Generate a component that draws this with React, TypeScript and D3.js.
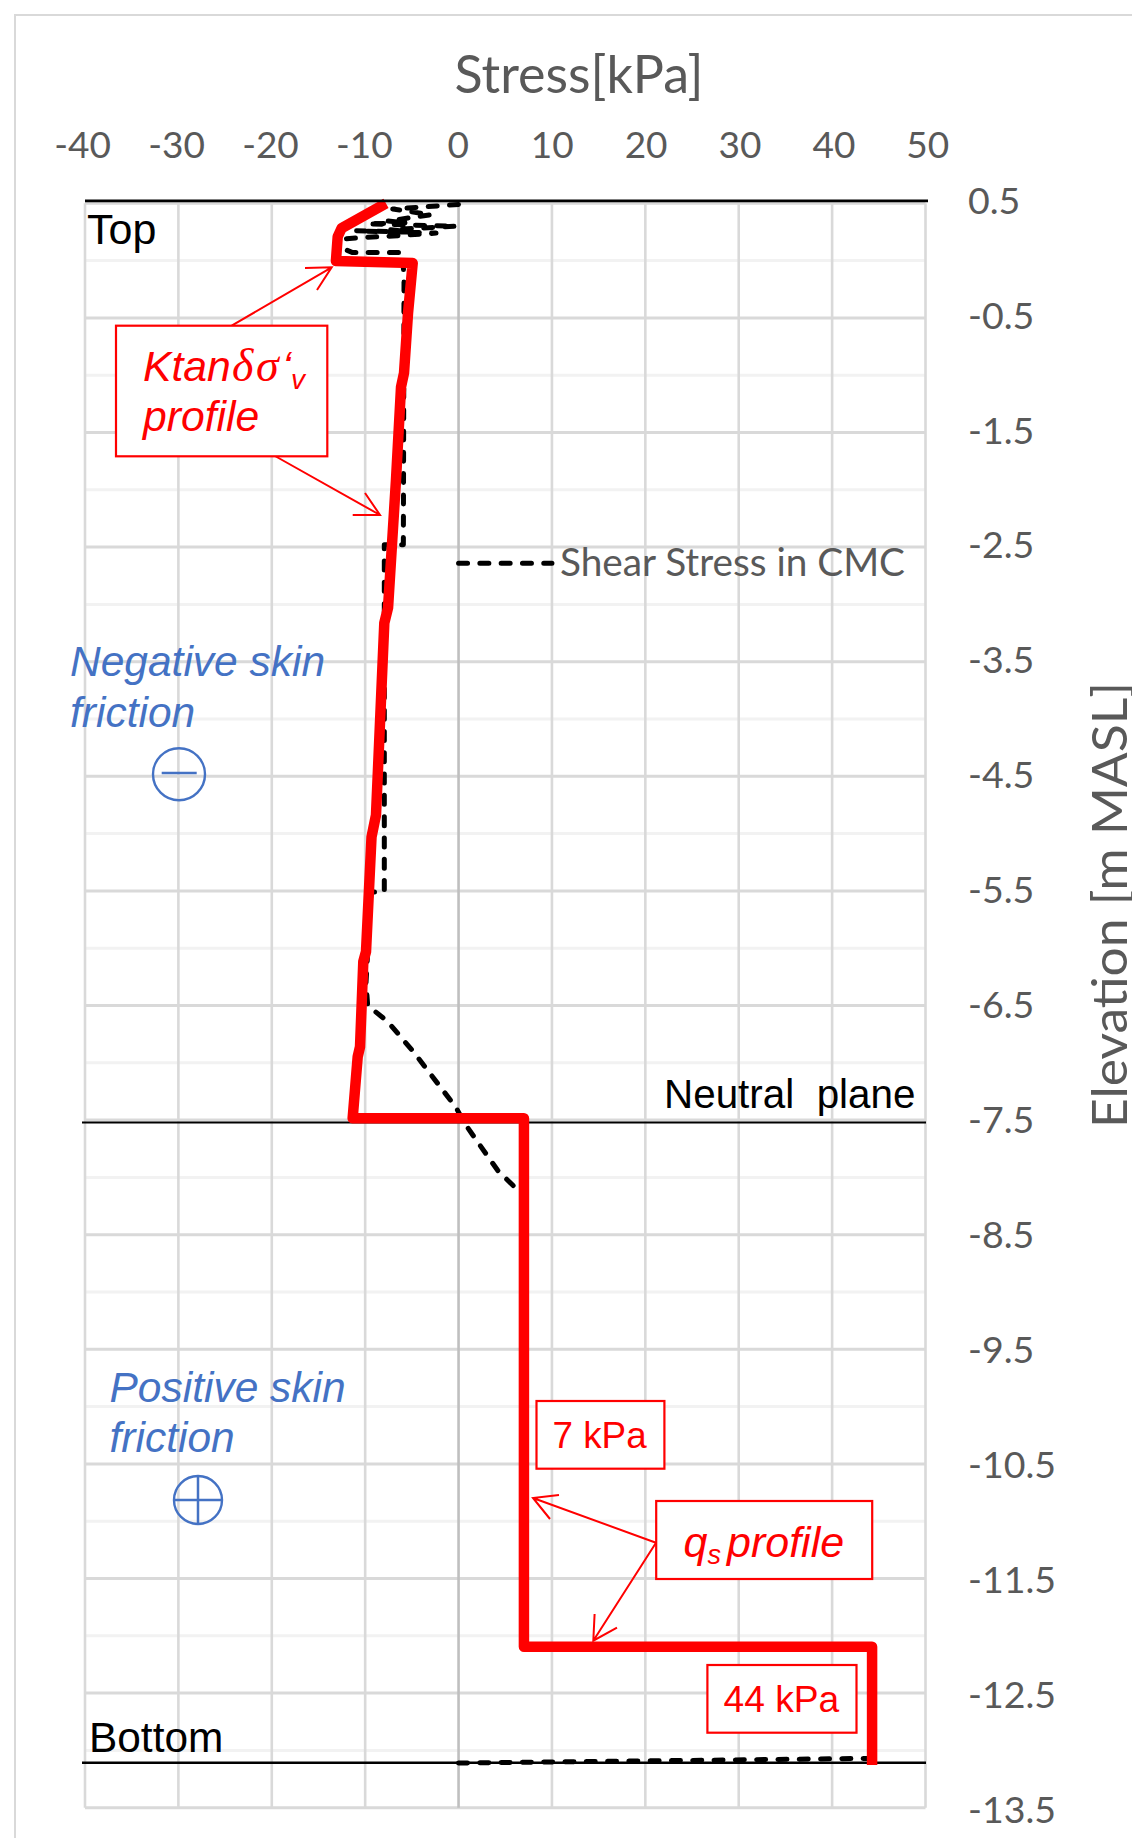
import React from "react";
import * as d3 from "d3";

const stressTicks = [-40, -30, -20, -10, 0, 10, 20, 30, 40, 50];
const elevationTicks = [0.5, -0.5, -1.5, -2.5, -3.5, -4.5, -5.5, -6.5, -7.5, -8.5, -9.5, -10.5, -11.5, -12.5, -13.5];
const elevationMinor = [0, -1, -2, -3, -4, -5, -6, -7, -8, -9, -10, -11, -12, -13];

const profileStress = [-7.77, -12.51, -12.94, -13.13, -4.91, -5.41, -5.84, -6.16, -6.7, -7.55, -7.95, -8.84, -9.32, -9.91, -10.2, -10.55, -10.8, -11.34, 7, 7, 44.28, 44.28];
const profileElev = [0.5, 0.284, 0.209, -0.003, -0.021, -0.457, -0.981, -1.103, -1.914, -3.03, -3.162, -4.838, -5.03, -6.03, -6.118, -6.86, -6.947, -7.484, -7.484, -12.095, -12.095, -13.127];

const shearStress = [-0.01, -7.05, -2.95, -7.6, -5.5, -9.73, -0.27, -7.3, -5.2, -10.98, -2.41, -7.0, -10.66, -12.05, -11.95, -11.34, -5.98, -5.84, -5.91, -7.95, -7.95, -9.38, -9.91, -9.73, -7.59, -4.77, -0.27, 0.59, 1.52, 4.2, 6.34, 6.9];
const shearElev = [0.49, 0.45, 0.4, 0.345, 0.33, 0.32, 0.3, 0.27, 0.25, 0.26, 0.24, 0.215, 0.2, 0.19, 0.09, 0.07, 0.07, -0.18, -2.48, -2.48, -5.51, -5.51, -6.3, -6.5, -6.64, -6.91, -7.39, -7.52, -7.63, -7.94, -8.11, -8.15];
const shearBaseStress = [-0.01, 43.85];
const shearBaseElev = [-13.11, -13.07];

const topElev = 0.522;
const neutralElev = -7.52;
const bottomElev = -13.108;

const x = d3.scaleLinear().domain([-40, 50]).range([85, 925.5]);
const y = d3.scaleLinear().domain([0.5, -13.5]).range([203.3, 1807.7]);
const xLabel = d3.scaleLinear().domain([-40, 50]).range([82.7, 927.8]);
const yLabel = d3.scaleLinear().domain([0.5, -13.5]).range([201, 1810]);

const line = d3.line<[number, number]>().x((d) => x(d[0])).y((d) => y(d[1]));
const zip = (a: number[], b: number[]) => a.map((v, i) => [v, b[i]] as [number, number]);

const GREY = "#595959";
const RED = "#ff0000";
const BLUE = "#4472c4";
const SANS = "'Liberation Sans', Arial, sans-serif";
const SERIF = "'Liberation Serif', serif";
const LATO = "Lato, sans-serif";

function Arrow({ from, tip, a, b }: { from: number[]; tip: number[]; a: number[]; b: number[] }) {
  return (
    <path
      d={`M${from[0]},${from[1]}L${tip[0]},${tip[1]}M${a[0]},${a[1]}L${tip[0]},${tip[1]}L${b[0]},${b[1]}`}
      fill="none"
      stroke={RED}
      strokeWidth={2}
    />
  );
}

function Box({ x0, y0, x1, y1 }: { x0: number; y0: number; x1: number; y1: number }) {
  return <rect x={x0} y={y0} width={x1 - x0} height={y1 - y0} fill="#fff" stroke={RED} strokeWidth={2.2} />;
}

export default function App() {
  const dash = { fill: "none", stroke: "#000", strokeWidth: 5, strokeDasharray: "9 12.3", strokeLinecap: "round" as const, strokeLinejoin: "round" as const };
  return (
    <svg width={1132} height={1838} style={{ position: "absolute", left: 0, top: 0, display: "block", background: "#fff" }}>
      <rect x={15} y={15} width={1140} height={1860} fill="none" stroke="#d9d9d9" strokeWidth={2} />

      {elevationMinor.map((e) => (
        <line key={e} x1={x(-40)} x2={x(50)} y1={y(e)} y2={y(e)} stroke="#f2f2f2" strokeWidth={3} />
      ))}
      {elevationTicks.map((e) => (
        <line key={e} x1={x(-40)} x2={x(50)} y1={y(e)} y2={y(e)} stroke="#d9d9d9" strokeWidth={3} />
      ))}
      {stressTicks.map((s) => (
        <line key={s} x1={x(s)} x2={x(s)} y1={y(0.5)} y2={y(-13.5)} stroke={s === 0 ? "#bfbfbf" : "#d9d9d9"} strokeWidth={2.6} />
      ))}

      <line x1={82} x2={926} y1={y(neutralElev)} y2={y(neutralElev)} stroke="#000" strokeWidth={2} />
      <line x1={82} x2={926} y1={y(bottomElev)} y2={y(bottomElev)} stroke="#000" strokeWidth={2.5} />

      <path d={line(zip(shearStress, shearElev)) ?? ""} {...dash} />
      <path d={line(zip(shearBaseStress, shearBaseElev)) ?? ""} {...dash} />
      <path d={line(zip(profileStress, profileElev)) ?? ""} fill="none" stroke={RED} strokeWidth={10.5} strokeLinejoin="round" />

      <line x1={85} x2={928} y1={y(topElev)} y2={y(topElev)} stroke="#000" strokeWidth={2.7} />

      {stressTicks.map((s) => (
        <text key={s} x={xLabel(s)} y={158} textAnchor="middle" fontFamily={LATO} fontSize={37} fill={GREY}>{s}</text>
      ))}
      {elevationTicks.map((e) => (
        <text key={e} x={968} y={yLabel(e) + 12.7} fontFamily={LATO} fontSize={37.5} fill={GREY}>{e}</text>
      ))}
      <text x={579} y={93} textAnchor="middle" fontFamily={LATO} fontSize={52} fill={GREY}>Stress[kPa]</text>
      <text transform="translate(1127,1128) rotate(-90)" fontFamily={LATO} fontSize={48} fill={GREY} textLength={446} lengthAdjust="spacingAndGlyphs">Elevation [m MASL]</text>

      <line x1={x(0)} x2={x(10)} y1={563.3} y2={563.3} {...dash} />
      <text x={560} y={576} fontFamily={LATO} fontSize={38} fill={GREY} textLength={345} lengthAdjust="spacingAndGlyphs">Shear Stress in CMC</text>

      <text x={87} y={243.5} fontFamily={SANS} fontSize={43} fill="#000">Top</text>
      <text x={89} y={1751.7} fontFamily={SANS} fontSize={42.4} fill="#000">Bottom</text>
      <text x={664} y={1108} fontFamily={SANS} fontSize={40.4} fill="#000" style={{ whiteSpace: "pre" }}>Neutral  plane</text>

      <Arrow from={[231.7, 325.7]} tip={[331.7, 267.3]} a={[305, 268]} b={[317, 290]} />
      <Arrow from={[275, 456]} tip={[380, 515]} a={[352.7, 515]} b={[365, 493]} />
      <Box x0={116} y0={325.7} x1={327.3} y1={456.3} />
      <text y={381} fontFamily={SANS} fontSize={42.7} fontStyle="italic" fill={RED}>
        <tspan x={143}>Ktan</tspan>
        <tspan x={232} fontFamily={SERIF} fontSize={46}>δ</tspan>
        <tspan x={256} fontFamily={SERIF} fontSize={46}>σ</tspan>
        <tspan x={282}>‘</tspan>
        <tspan x={291} fontSize={28} dy={8}>v</tspan>
      </text>
      <text x={143} y={431} fontFamily={SANS} fontSize={42.7} fontStyle="italic" fill={RED}>profile</text>

      <text x={70} y={675.5} fontFamily={SANS} fontSize={42.5} fontStyle="italic" fill={BLUE}>Negative skin</text>
      <text x={70} y={726.7} fontFamily={SANS} fontSize={42.5} fontStyle="italic" fill={BLUE}>friction</text>
      <circle cx={179} cy={774.3} r={26} fill="none" stroke={BLUE} strokeWidth={2.4} />
      <line x1={161.7} x2={196.7} y1={773} y2={773} stroke={BLUE} strokeWidth={2.5} />

      <text x={109.5} y={1401.5} fontFamily={SANS} fontSize={42.5} fontStyle="italic" fill={BLUE}>Positive skin</text>
      <text x={109.5} y={1452} fontFamily={SANS} fontSize={42.5} fontStyle="italic" fill={BLUE}>friction</text>
      <circle cx={198} cy={1500} r={24} fill="none" stroke={BLUE} strokeWidth={2.4} />
      <path d="M174,1500H222M198,1476V1524" fill="none" stroke={BLUE} strokeWidth={2.5} />

      <Box x0={536.5} y0={1401} x1={664.4} y1={1468.7} />
      <text x={552.5} y={1448} fontFamily={SANS} fontSize={36.8} fill={RED}>7 kPa</text>

      <Arrow from={[656, 1542.7]} tip={[533, 1498]} a={[559, 1495]} b={[550, 1519]} />
      <Arrow from={[656, 1542.7]} tip={[593.3, 1640.7]} a={[594.6, 1614]} b={[617, 1627.7]} />
      <Box x0={656.2} y0={1501} x1={872.2} y1={1579} />
      <text y={1556.7} fontFamily={SANS} fontSize={43} fontStyle="italic" fill={RED}>
        <tspan x={683.5}>q</tspan>
        <tspan fontSize={27} dy={7}>s</tspan>
        <tspan x={727} dy={-7}>profile</tspan>
      </text>

      <Box x0={707.4} y0={1665} x1={856.5} y1={1732.7} />
      <text x={723.5} y={1712} fontFamily={SANS} fontSize={37.2} fill={RED}>44 kPa</text>
    </svg>
  );
}
